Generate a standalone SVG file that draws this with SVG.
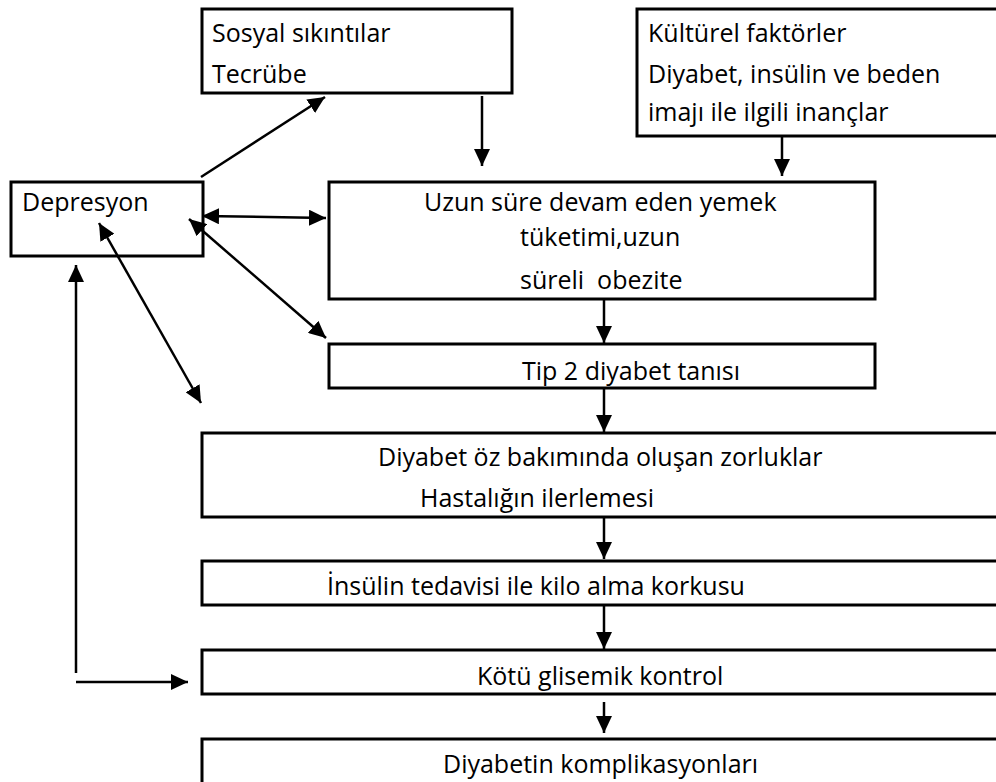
<svg xmlns="http://www.w3.org/2000/svg" width="996" height="782" viewBox="0 0 996 782">
<style>
.box{fill:#fff;stroke:#000;stroke-width:3}
.t{font-family:"Open Sans","Noto Sans",sans-serif;font-size:25px;fill:#000}
.ln{stroke:#000;stroke-width:2.5;fill:none}
</style>
<defs>
<marker id="ah" markerUnits="userSpaceOnUse" markerWidth="18" markerHeight="16" viewBox="0 0 18 16" refX="17" refY="8" orient="auto-start-reverse">
<path d="M0,0 L17,8 L0,16 Z" fill="#000"/>
</marker>
</defs>
<rect width="996" height="782" fill="#fff"/>
<g id="sosyal"><rect class="box" x="202" y="9" width="310" height="84"/>
<text class="t" x="212" y="42">Sosyal sıkıntılar</text>
<text class="t" x="212" y="83">Tecrübe</text></g>
<g id="kulturel"><rect class="box" x="637" y="9" width="370" height="127"/>
<text class="t" x="648" y="42">Kültürel faktörler</text>
<text class="t" x="648" y="83">Diyabet, insülin ve beden</text>
<text class="t" x="648" y="121">imajı ile ilgili inançlar</text></g>
<g id="depresyon"><rect class="box" x="11" y="182" width="192" height="74"/>
<text class="t" x="22" y="211">Depresyon</text></g>
<g id="uzun"><rect class="box" x="329" y="182" width="546" height="117"/>
<text class="t" x="424" y="211">Uzun süre devam eden yemek</text>
<text class="t" x="520" y="246">tüketimi,uzun</text>
<text class="t" x="520" y="289" xml:space="preserve">süreli  obezite</text></g>
<g id="tip2"><rect class="box" x="329" y="344" width="546" height="44"/>
<text class="t" x="522" y="380">Tip 2 diyabet tanısı</text></g>
<g id="ozbakim"><rect class="box" x="202" y="433" width="810" height="84"/>
<text class="t" x="378" y="466">Diyabet öz bakımında oluşan zorluklar</text>
<text class="t" x="420" y="507">Hastalığın ilerlemesi</text></g>
<g id="insulin"><rect class="box" x="202" y="561" width="810" height="44"/>
<text class="t" x="327" y="595">İnsülin tedavisi ile kilo alma korkusu</text></g>
<g id="kotu"><rect class="box" x="202" y="650" width="810" height="44"/>
<text class="t" x="477" y="685">Kötü glisemik kontrol</text></g>
<g id="komplikasyon"><rect class="box" x="202" y="739" width="810" height="60"/>
<text class="t" x="443" y="773">Diyabetin komplikasyonları</text></g>
<g id="connectors">
<line class="ln" x1="201" y1="177" x2="325" y2="97" marker-end="url(#ah)"/>
<line class="ln" x1="482" y1="96" x2="482" y2="166" marker-end="url(#ah)"/>
<line class="ln" x1="782" y1="136" x2="782" y2="176" marker-end="url(#ah)"/>
<line class="ln" x1="202" y1="216" x2="326" y2="218" marker-start="url(#ah)" marker-end="url(#ah)"/>
<line class="ln" x1="189" y1="219" x2="326" y2="338" marker-start="url(#ah)" marker-end="url(#ah)"/>
<line class="ln" x1="99" y1="223" x2="201" y2="403" marker-start="url(#ah)" marker-end="url(#ah)"/>
<line class="ln" x1="604" y1="299" x2="604" y2="343" marker-end="url(#ah)"/>
<line class="ln" x1="604" y1="388" x2="604" y2="432" marker-end="url(#ah)"/>
<line class="ln" x1="604" y1="517" x2="604" y2="559" marker-end="url(#ah)"/>
<line class="ln" x1="604" y1="605" x2="604" y2="649" marker-end="url(#ah)"/>
<line class="ln" x1="604" y1="702" x2="604" y2="733" marker-end="url(#ah)"/>
<line class="ln" x1="76" y1="673" x2="76" y2="265" marker-end="url(#ah)"/>
<line class="ln" x1="76" y1="682" x2="188" y2="682" marker-end="url(#ah)"/>
</g>
</svg>
